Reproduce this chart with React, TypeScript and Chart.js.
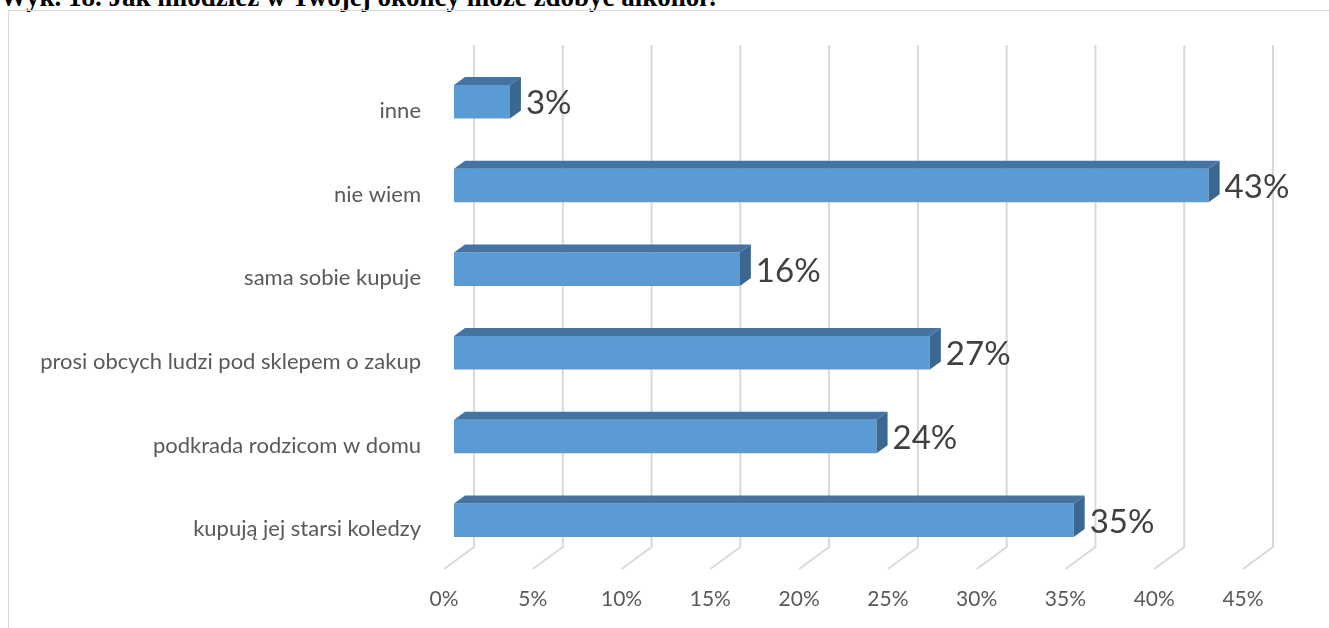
import React, { useEffect, useRef } from "react";
import { Chart, registerables } from "chart.js";

Chart.register(...registerables);

const TITLE = "Wyk. 18. Jak młodzież w Twojej okolicy może zdobyć alkohol?";
const categories = [
  "inne",
  "nie wiem",
  "sama sobie kupuje",
  "prosi obcych ludzi pod sklepem o zakup",
  "podkrada rodzicom w domu",
  "kupują jej starsi koledzy",
];
const values = [3.15, 42.5, 16.1, 26.8, 23.8, 34.9];
const xTicks = [0, 5, 10, 15, 20, 25, 30, 35, 40, 45];

const FRONT = "#5B9BD5";
const TOP = "#4674A0";
const SIDE = "#3B6891";
const GRID = "#D9D9D9";
const FONT = "Lato, 'Noto Sans', sans-serif";

// 3D depth offsets (pixels)
const BACK_DX = 20, BACK_DY = -15;
const FLOOR_DX = -10, FLOOR_DY = 7;
const BAR_DX = 11, BAR_DY = -8;

const threeD = {
  id: "threeD",
  beforeDatasetsDraw(chart: any) {
    const { ctx, chartArea, scales } = chart;
    const xs = scales.x;
    ctx.save();
    ctx.strokeStyle = GRID;
    ctx.lineWidth = 2;
    xTicks.forEach((t) => {
      const gx = xs.getPixelForValue(t);
      ctx.beginPath();
      ctx.moveTo(gx + BACK_DX, chartArea.top + BACK_DY);
      ctx.lineTo(gx + BACK_DX, chartArea.bottom + BACK_DY);
      ctx.lineTo(gx + FLOOR_DX, chartArea.bottom + FLOOR_DY);
      ctx.stroke();
    });
    ctx.restore();
  },
  afterDatasetsDraw(chart: any) {
    const { ctx } = chart;
    const meta = chart.getDatasetMeta(0);
    ctx.save();
    meta.data.forEach((el: any, i: number) => {
      const top = el.y - el.height / 2;
      const bottom = el.y + el.height / 2;
      const x = el.x;
      const base = el.base;
      ctx.fillStyle = TOP;
      ctx.beginPath();
      ctx.moveTo(base, top);
      ctx.lineTo(x, top);
      ctx.lineTo(x + BAR_DX, top + BAR_DY);
      ctx.lineTo(base + BAR_DX, top + BAR_DY);
      ctx.closePath();
      ctx.fill();
      ctx.fillStyle = SIDE;
      ctx.beginPath();
      ctx.moveTo(x, top);
      ctx.lineTo(x + BAR_DX, top + BAR_DY);
      ctx.lineTo(x + BAR_DX, bottom + BAR_DY);
      ctx.lineTo(x, bottom);
      ctx.closePath();
      ctx.fill();
      ctx.fillStyle = "#404040";
      ctx.font = `33px ${FONT}`;
      ctx.textBaseline = "middle";
      ctx.textAlign = "left";
      ctx.fillText(Math.round(values[i]) + "%", x + BAR_DX + 5, el.y + 2);
    });
    ctx.restore();
  },
};

export default function App() {
  const ref = useRef<HTMLCanvasElement>(null);
  useEffect(() => {
    if (!ref.current) return;
    const chart = new Chart(ref.current, {
      type: "bar",
      data: {
        labels: categories,
        datasets: [
          {
            data: values,
            backgroundColor: FRONT,
            borderWidth: 0,
            barPercentage: 0.4,
            categoryPercentage: 1,
          },
        ],
      },
      options: {
        indexAxis: "y",
        animation: false,
        responsive: false,
        maintainAspectRatio: false,
        layout: { padding: { top: 49, right: 76, left: 0, bottom: 0 } },
        plugins: { legend: { display: false }, tooltip: { enabled: false } },
        scales: {
          x: {
            type: "linear",
            min: 0,
            max: 45,
            afterBuildTicks: (s: any) => {
              s.ticks = xTicks.map((v) => ({ value: v }));
            },
            afterFit: (s: any) => {
              s.height = 66;
            },
            grid: { display: false, drawTicks: false },
            border: { display: false },
            ticks: {
              autoSkip: false,
              maxRotation: 0,
              labelOffset: -10,
              padding: 25,
              color: "#595959",
              font: { family: FONT, size: 21 },
              callback: (v: any) => v + "%",
            },
          },
          y: {
            afterFit: (s: any) => {
              s.width = 445;
            },
            grid: { display: false, drawTicks: false },
            border: { display: false },
            ticks: {
              autoSkip: false,
              padding: 33,
              labelOffset: 9,
              color: "#595959",
              font: { family: FONT, size: 22 },
            },
          },
        },
      },
      plugins: [threeD],
    });
    return () => chart.destroy();
  }, []);

  return (
    <div style={{ position: "fixed", inset: 0, overflow: "hidden", background: "#fff" }}>
      <div
        style={{
          position: "absolute",
          left: 0,
          top: -15.6,
          fontFamily: "'Liberation Serif', 'Times New Roman', serif",
          fontWeight: "bold",
          fontSize: "27px",
          lineHeight: "27px",
          whiteSpace: "nowrap",
          color: "#000",
        }}
      >
        {TITLE}
      </div>
      <div
        style={{
          position: "absolute",
          left: 8,
          top: 10,
          width: 1340,
          height: 640,
          border: "1px solid #D9D9D9",
        }}
      >
        <canvas ref={ref} width={1320} height={617} style={{ display: "block", width: 1320, height: 617 }} />
      </div>
    </div>
  );
}
